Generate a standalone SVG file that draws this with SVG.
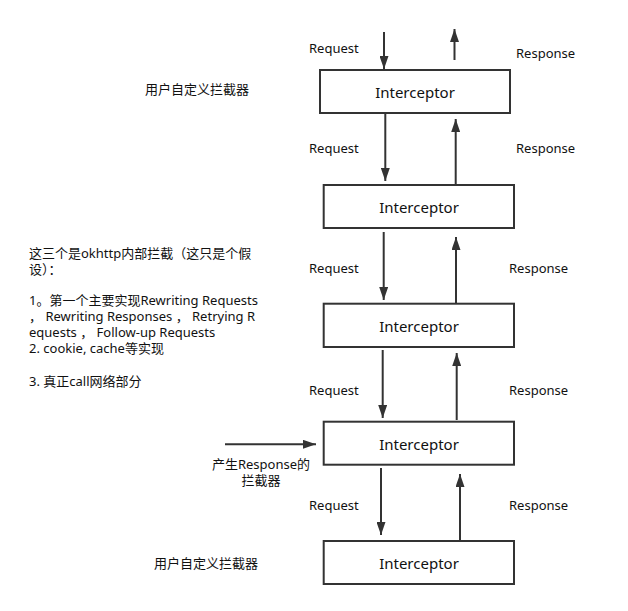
<svg xmlns="http://www.w3.org/2000/svg" width="628" height="611" viewBox="0 0 628 611">
<defs>
<style>
.box{fill:#fff;stroke:#333;stroke-width:2}
.lbl{font-family:"Noto Sans","Noto Sans CJK SC",sans-serif;font-size:13px;fill:#111}
.ic{font-family:"Noto Sans","Noto Sans CJK SC",sans-serif;font-size:15px;fill:#111;text-anchor:middle}
.cn{font-family:"Noto Sans","Noto Sans CJK SC",sans-serif;font-size:13px;fill:#111}
.ar{stroke:#333;stroke-width:2;fill:none;marker-end:url(#ah)}
</style>
<marker id="ah" viewBox="0 0 13 9" refX="13" refY="4.5" markerWidth="13" markerHeight="9" markerUnits="userSpaceOnUse" orient="auto">
<path d="M0,0 L13,4.5 L0,9 z" fill="#333"/>
</marker>
</defs>
<rect width="628" height="611" fill="#fff"/>
<g id="connectors">
<line class="ar" x1="384" y1="32" x2="384" y2="69"/>
<line class="ar" x1="454.5" y1="60" x2="454.5" y2="29"/>
<line class="ar" x1="385.3" y1="114" x2="385.3" y2="181"/>
<line class="ar" x1="455.7" y1="184" x2="455.7" y2="119"/>
<line class="ar" x1="383.7" y1="232" x2="383.7" y2="300"/>
<line class="ar" x1="456" y1="303" x2="456" y2="237"/>
<line class="ar" x1="382.7" y1="350" x2="382.7" y2="418"/>
<line class="ar" x1="456.7" y1="420" x2="456.7" y2="353"/>
<line class="ar" x1="381" y1="468" x2="381" y2="535"/>
<line class="ar" x1="460" y1="540" x2="460" y2="474"/>
<line class="ar" x1="225" y1="444.3" x2="316" y2="444.3"/>
</g>
<g id="node1"><rect class="box" x="320" y="70" width="190" height="43"/><text class="ic" x="415" y="98">Interceptor</text></g>
<g id="node2"><rect class="box" x="323.7" y="185" width="190.3" height="43"/><text class="ic" x="419" y="213">Interceptor</text></g>
<g id="node3"><rect class="box" x="323.7" y="303.7" width="190.3" height="43.3"/><text class="ic" x="419" y="332">Interceptor</text></g>
<g id="node4"><rect class="box" x="323.7" y="421.7" width="190.3" height="43"/><text class="ic" x="419" y="450">Interceptor</text></g>
<g id="node5"><rect class="box" x="323.7" y="541" width="190.3" height="43"/><text class="ic" x="419" y="569">Interceptor</text></g>
<g id="labels">
<text class="lbl" x="309" y="52.5">Request</text>
<text class="lbl" x="516" y="57.5">Response</text>
<text class="lbl" x="309" y="152.5">Request</text>
<text class="lbl" x="516" y="152.5">Response</text>
<text class="lbl" x="309" y="273">Request</text>
<text class="lbl" x="509" y="273">Response</text>
<text class="lbl" x="309" y="394.5">Request</text>
<text class="lbl" x="509" y="394.5">Response</text>
<text class="lbl" x="309" y="509.5">Request</text>
<text class="lbl" x="509" y="509.5">Response</text>
<text class="cn" x="145" y="94">用户自定义拦截器</text>
<text class="cn" x="154" y="568">用户自定义拦截器</text>
<text class="cn" x="261" y="469" text-anchor="middle">产生Response的</text>
<text class="cn" x="261" y="485" text-anchor="middle">拦截器</text>
</g>
<g id="note" class="cn" xml:space="preserve">
<text x="29" y="258">这三个是okhttp内部拦截（这只是个假</text>
<text x="29" y="274">设）：</text>
<text x="29" y="305">1。第一个主要实现Rewriting Requests</text>
<text x="29" y="321"> ， Rewriting Responses ， Retrying R</text>
<text x="29" y="337">equests ， Follow-up Requests</text>
<text x="29" y="353">2. cookie, cache等实现</text>
<text x="29" y="386">3. 真正call网络部分</text>
</g>
</svg>
